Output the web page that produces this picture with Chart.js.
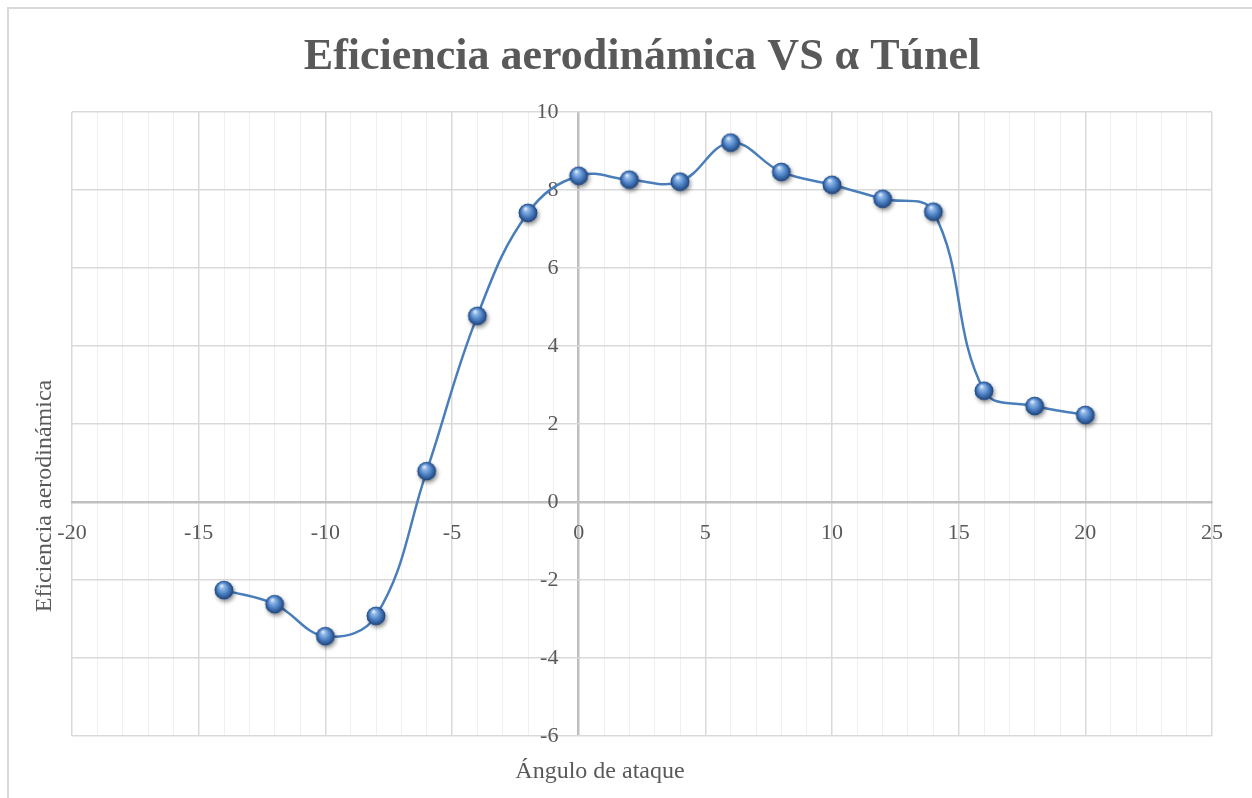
<!DOCTYPE html>
<html>
<head>
<meta charset="utf-8">
<script src="https://cdn.jsdelivr.net/npm/chart.js@4"></script>
<style>
  html, body { margin: 0; padding: 0; background: #fff; }
  #wrap { position: relative; width: 1252px; height: 798px; }
</style>
</head>
<body>
<div id="wrap"><canvas id="chart" width="1252" height="798"></canvas></div>
<script>
// Angle of attack (deg) and aerodynamic efficiency.
var angles     = [ -14, -12, -10, -8, -6, -4, -2, 0, 2, 4, 6, 8, 10, 12, 14, 16, 18, 20 ];
var efficiency = [ -2.26, -2.62, -3.44, -2.92, 0.79, 4.77, 7.41, 8.36, 8.26, 8.21, 9.21, 8.46, 8.13, 7.77, 7.44, 2.85, 2.46, 2.23 ];

var titleText  = 'Eficiencia aerodinámica VS α Túnel';
var xTitleText = 'Ángulo de ataque';
var yTitleText = 'Eficiencia aerodinámica';

var SERIF = "'Liberation Serif', 'DejaVu Serif', serif";
var GREY  = '#595959';

// Glossy sphere marker, like Excel's bevelled points.
function makeSphere() {
	var c = document.createElement( 'canvas' );
	c.width = 32; c.height = 32;
	var g = c.getContext( '2d' );
	var cx = 16, cy = 16, r = 9.3;
	g.save();
	g.shadowColor = 'rgba(0,0,0,0.45)';
	g.shadowBlur = 4;
	g.shadowOffsetX = 1.5;
	g.shadowOffsetY = 2.5;
	g.beginPath();
	g.arc( cx, cy, r, 0, Math.PI * 2 );
	g.fillStyle = '#3b6db0';
	g.fill();
	g.restore();
	var grad = g.createRadialGradient( cx - 2.5, cy - 4.5, 0.5, cx, cy, r );
	grad.addColorStop( 0,    '#e4eefa' );
	grad.addColorStop( 0.2,  '#93b9e8' );
	grad.addColorStop( 0.6,  '#4b80c4' );
	grad.addColorStop( 1,    '#1e4379' );
	g.beginPath();
	g.arc( cx, cy, r, 0, Math.PI * 2 );
	g.fillStyle = grad;
	g.fill();
	return c;
}

// Frame and axis titles, drawn like Excel's chart area.
var decorations = {
	id: 'decorations',
	beforeDraw: function ( chart ) {
		var ctx = chart.ctx;
		ctx.save();
		ctx.fillStyle = '#fff';
		ctx.fillRect( 0, 0, chart.width, chart.height );
		ctx.strokeStyle = '#d9d9d9';
		ctx.lineWidth = 2;
		ctx.strokeRect( 8, 8, chart.width + 20, chart.height + 20 );
		ctx.restore();
	},
	afterDraw: function ( chart ) {
		var ctx = chart.ctx;
		ctx.save();
		ctx.fillStyle = GREY;
		ctx.font = '24px ' + SERIF;
		ctx.textAlign = 'center';
		ctx.textBaseline = 'middle';
		ctx.fillText( xTitleText, 600, 772 );
		ctx.translate( 45, 496 );
		ctx.rotate( -Math.PI / 2 );
		ctx.fillText( yTitleText, 0, 0 );
		ctx.restore();
	}
};

var sphere = makeSphere();
var points = angles.map( function ( a, i ) { return { x: a, y: efficiency[ i ] }; } );

new Chart( document.getElementById( 'chart' ), {
	type: 'scatter',
	data: {
		datasets: [ {
			data: points,
			showLine: true,
			borderColor: '#4a7ebb',
			borderWidth: 2.5,
			tension: 0.4,
			pointStyle: sphere,
			pointRadius: 10,
			pointHoverRadius: 10,
		} ],
	},
	plugins: [ decorations ],
	options: {
		responsive: false,
		animation: false,
		layout: { padding: { left: 72, right: 40, top: 0, bottom: 62 } },
		plugins: {
			legend: { display: false },
			tooltip: { enabled: false },
			title: {
				display: true,
				text: titleText,
				color: GREY,
				font: { family: SERIF, size: 44, weight: 'bold' },
				padding: { top: 31, bottom: 28 },
			},
		},
		scales: {
			x: {
				type: 'linear',
				min: -20,
				max: 25,
				position: { y: 0 },
				ticks: {
					stepSize: 1,
					autoSkip: false,
					maxRotation: 0,
					padding: 18,
					color: GREY,
					font: { family: SERIF, size: 22 },
					callback: function ( v ) { return v % 5 === 0 ? String( v ) : ''; },
				},
				grid: {
					drawTicks: false,
					// x = 0 doubles as the vertical axis line
					color: function ( c ) {
						if ( ! c.tick ) return '#efefef';
						if ( c.tick.value === 0 ) return '#bfbfbf';
						return c.tick.value % 5 === 0 ? '#d9d9d9' : '#efefef';
					},
					lineWidth: function ( c ) {
						if ( ! c.tick ) return 1;
						if ( c.tick.value === 0 ) return 2.5;
						return c.tick.value % 5 === 0 ? 1.5 : 1;
					},
				},
				border: { display: true, color: '#bfbfbf', width: 2.5 },
			},
			y: {
				type: 'linear',
				min: -6,
				max: 10,
				// labels sit a little left of the x = 0 line
				position: { x: -0.8 },
				ticks: {
					stepSize: 2,
					color: GREY,
					font: { family: SERIF, size: 22 },
				},
				grid: { drawTicks: false, color: '#d9d9d9', lineWidth: 1.5 },
				border: { display: false },
			},
		},
	},
} );
</script>
</body>
</html>
